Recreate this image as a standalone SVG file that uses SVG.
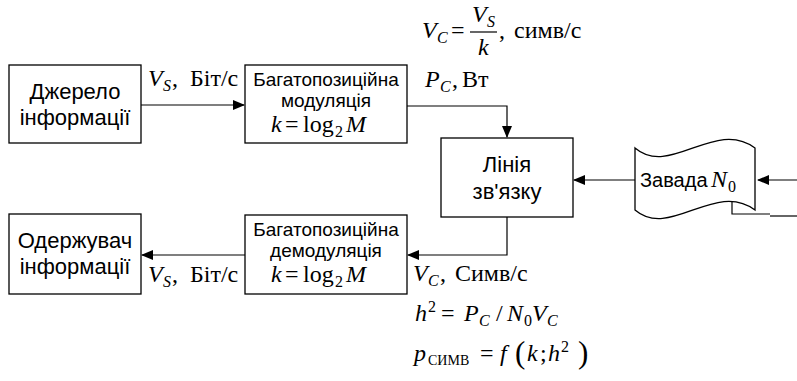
<svg xmlns="http://www.w3.org/2000/svg" width="797" height="381" viewBox="0 0 797 381">
<style>
.box{fill:#fff;stroke:#000;stroke-width:1.3}
.t{font-family:"Liberation Sans",Arial,sans-serif;font-size:19px;text-anchor:middle;fill:#000}
.tl{font-size:22px}
.m{font-family:"Liberation Serif","Times New Roman",serif;font-size:24px;fill:#000}
.i{font-style:italic}
.sub{font-size:16px}
.conn{fill:none;stroke:#000;stroke-width:1.2}
</style>
<defs>
<marker id="arr" markerWidth="12" markerHeight="10" refX="11" refY="5" orient="auto" markerUnits="userSpaceOnUse">
<path d="M0,0 L12,5 L0,10 Z" fill="#000"/>
</marker>
</defs>
<rect width="797" height="381" fill="#fff"/>
<g id="connectors">
<path class="conn" d="M141,105 H244" marker-end="url(#arr)"/>
<path class="conn" d="M407,106 H507 V137" marker-end="url(#arr)"/>
<path class="conn" d="M507,217 V255 H408" marker-end="url(#arr)"/>
<path class="conn" d="M245,255 H142" marker-end="url(#arr)"/>
<path class="conn" d="M635,180 H574" marker-end="url(#arr)"/>
<path class="conn" d="M797,180 H758" marker-end="url(#arr)"/>
<path class="conn" d="M732,199 V214 H770"/>
<path class="conn" d="M770,216 H797"/>
</g>
<g id="source">
<rect class="box" x="9" y="65" width="132" height="78"/>
<text class="t tl" x="75" y="99">Джерело</text>
<text class="t tl" x="75" y="125">інформації</text>
</g>
<g id="modulator">
<rect class="box" x="245" y="65" width="162" height="78"/>
<text class="t" x="326" y="86">Багатопозиційна</text>
<text class="t" x="326" y="107">модуляція</text>
<text class="m" y="132"><tspan class="i" x="271">k</tspan><tspan x="285">=</tspan><tspan x="303">log</tspan><tspan class="sub" x="335" dy="5">2</tspan><tspan class="i" x="346" dy="-5">M</tspan></text>
</g>
<g id="channel">
<rect class="box" x="441" y="138" width="132" height="79"/>
<text class="t tl" x="507" y="172">Лінія</text>
<text class="t tl" x="507" y="199">зв'язку</text>
</g>
<g id="demodulator">
<rect class="box" x="245" y="215" width="162" height="79"/>
<text class="t" x="326" y="236">Багатопозиційна</text>
<text class="t" x="326" y="257">демодуляція</text>
<text class="m" y="282"><tspan class="i" x="271">k</tspan><tspan x="285">=</tspan><tspan x="303">log</tspan><tspan class="sub" x="335" dy="5">2</tspan><tspan class="i" x="346" dy="-5">M</tspan></text>
</g>
<g id="receiver">
<rect class="box" x="9" y="214" width="132" height="80"/>
<text class="t tl" x="75" y="248">Одержувач</text>
<text class="t tl" x="75" y="274">інформації</text>
</g>
<g id="noise">
<path class="box" d="M635,148 C670,178 715,118 755,148 L755,210 C715,180 670,240 635,210 Z"/>
<text class="t" x="640" y="187" style="text-anchor:start;font-size:20px">Завада</text>
<text class="m" y="187"><tspan class="i" x="711">N</tspan><tspan class="sub" x="728" dy="5">0</tspan></text>
</g>
<g id="labels">
<text class="m" y="86"><tspan class="i" x="148">V</tspan><tspan class="sub i" x="163" dy="5">S</tspan><tspan x="172" dy="-5">,</tspan><tspan x="190">Біт/с</tspan></text>
<text class="m" y="87"><tspan class="i" x="425">P</tspan><tspan class="sub i" x="440" dy="5">C</tspan><tspan x="452" dy="-5">,</tspan><tspan x="462">Вт</tspan></text>
<text class="m" y="282"><tspan class="i" x="148">V</tspan><tspan class="sub i" x="163" dy="5">S</tspan><tspan x="172" dy="-5">,</tspan><tspan x="190">Біт/с</tspan></text>
<text class="m" y="281"><tspan class="i" x="413">V</tspan><tspan class="sub i" x="428" dy="5">C</tspan><tspan x="440" dy="-5">,</tspan><tspan x="455">Симв/с</tspan></text>
<text class="m" y="38"><tspan class="i" x="422">V</tspan><tspan class="sub i" x="437" dy="5">C</tspan><tspan x="451" dy="-5">=</tspan></text>
<text class="m" y="22"><tspan class="i" x="472">V</tspan><tspan class="sub i" x="487" dy="5">S</tspan></text>
<line x1="470" y1="32" x2="497" y2="32" stroke="#000" stroke-width="1.2"/>
<text class="m i" x="478" y="55">k</text>
<text class="m" y="38"><tspan x="499">,</tspan><tspan x="514">симв/с</tspan></text>
<text class="m" y="321"><tspan class="i" x="415">h</tspan><tspan class="sub" x="428" dy="-9">2</tspan><tspan x="441" dy="9">=</tspan><tspan class="i" x="464">P</tspan><tspan class="sub i" x="479" dy="5">C</tspan><tspan x="496" dy="-5">/</tspan><tspan class="i" x="507">N</tspan><tspan class="sub" x="524" dy="5">0</tspan><tspan class="i" x="532" dy="-5">V</tspan><tspan class="sub i" x="547" dy="5">C</tspan></text>
<text class="m" y="361"><tspan class="i" x="414">p</tspan><tspan style="font-size:14px" x="428" dy="4">СИМВ</tspan><tspan x="480" dy="-4">=</tspan><tspan class="i" x="500">f</tspan><tspan style="font-size:31px" x="515" dy="2">(</tspan><tspan class="i" x="527" dy="-2">k</tspan><tspan x="540">;</tspan><tspan class="i" x="548">h</tspan><tspan class="sub" x="561" dy="-9">2</tspan><tspan style="font-size:31px" x="578" dy="11">)</tspan></text>
</g>
</svg>
